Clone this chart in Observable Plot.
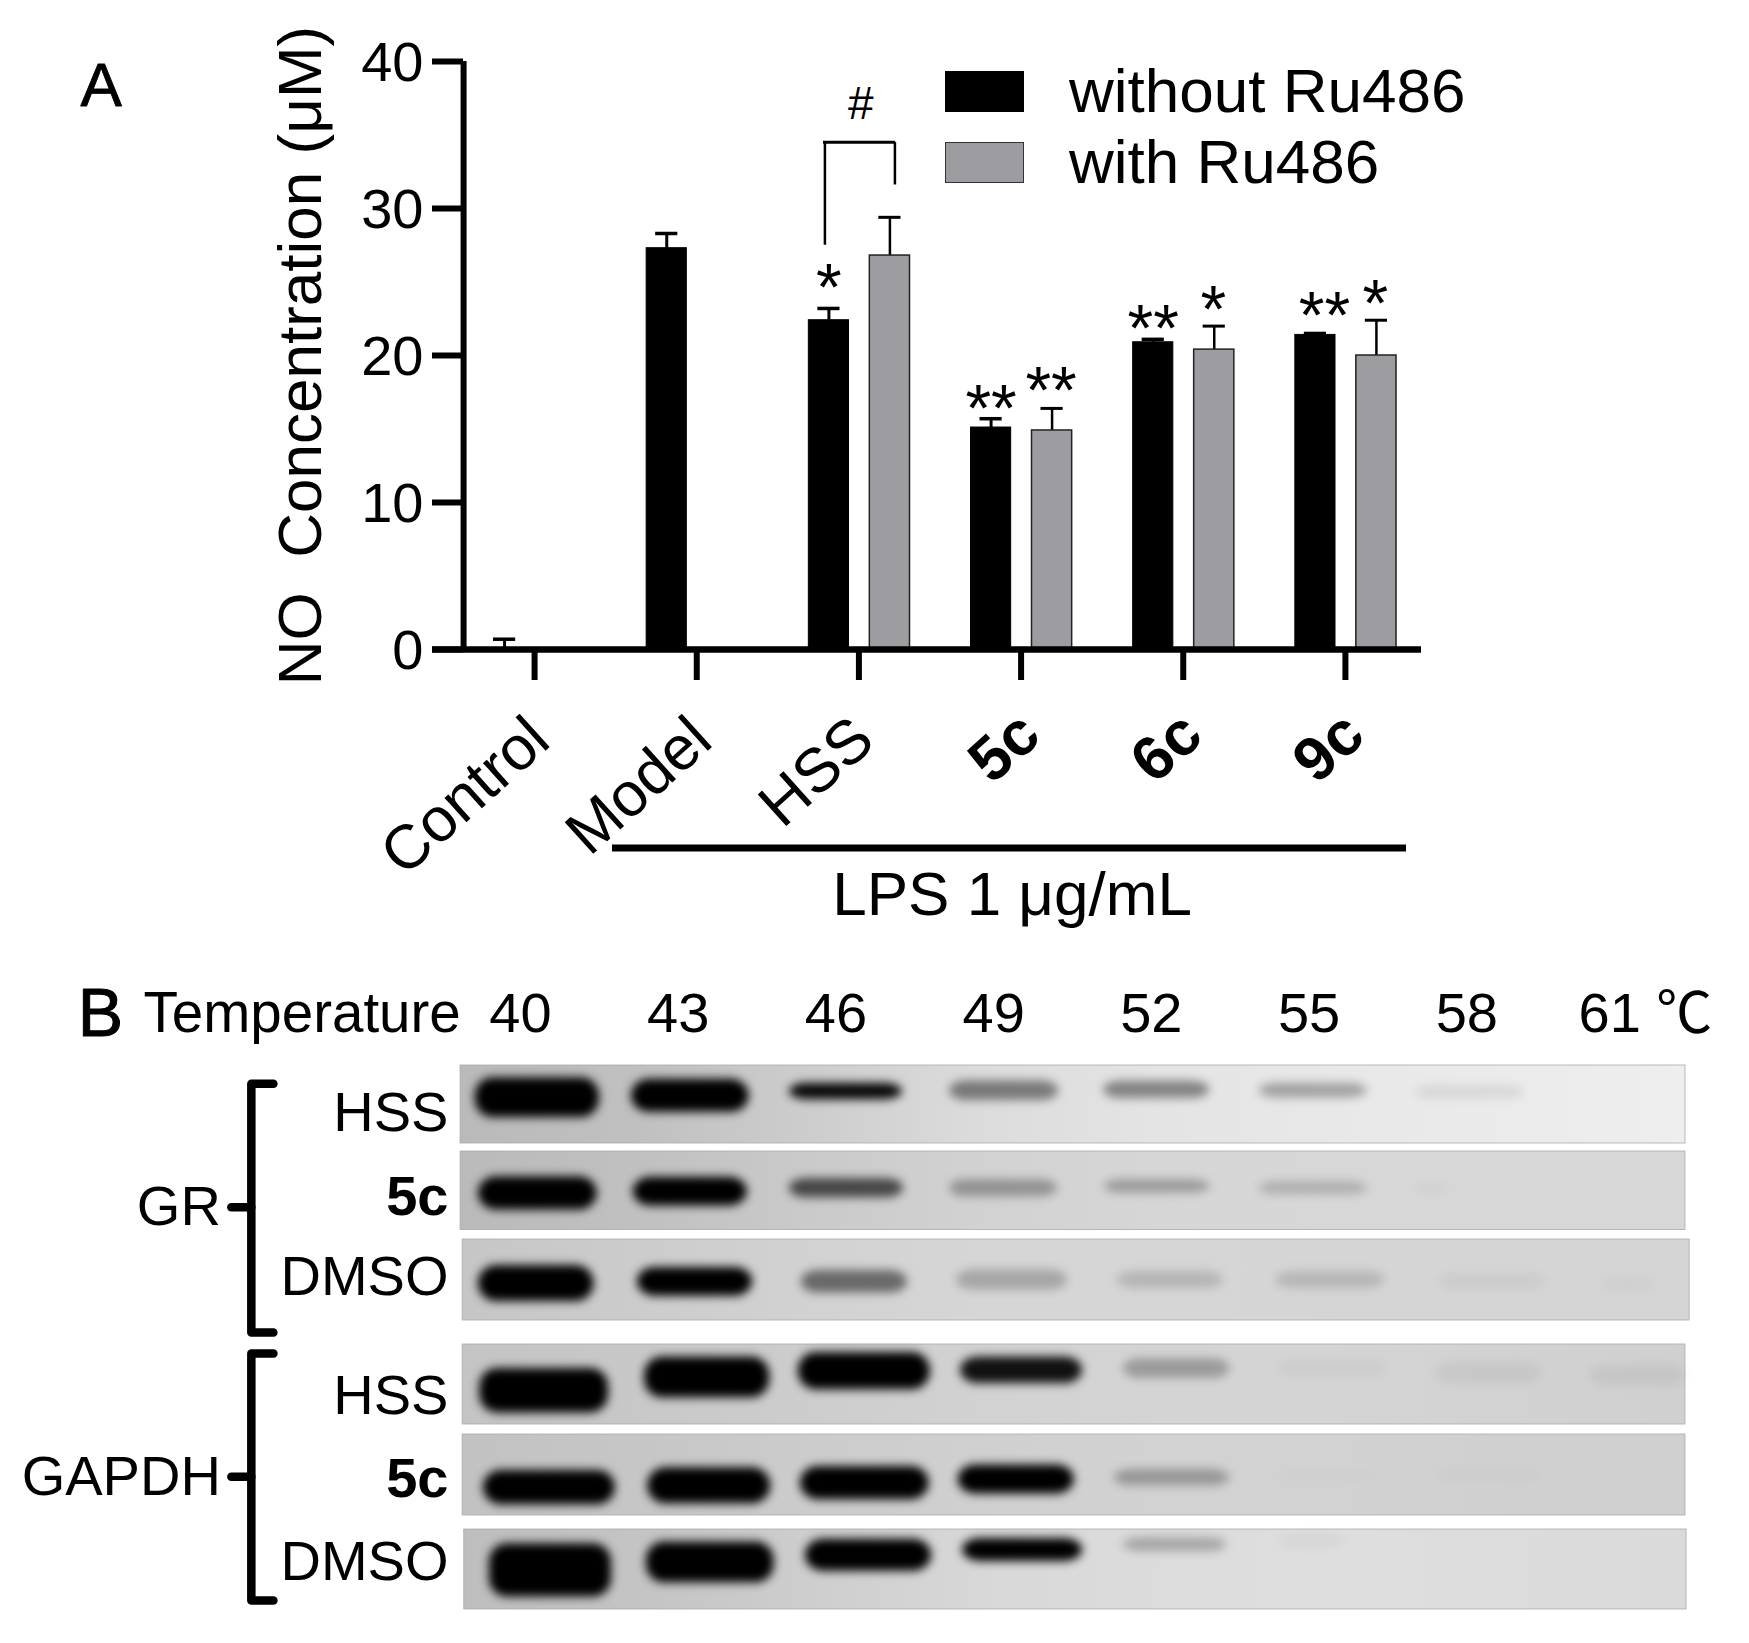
<!DOCTYPE html>
<html><head><meta charset="utf-8">
<script src="https://cdn.jsdelivr.net/npm/d3@7"></script>
<script src="https://cdn.jsdelivr.net/npm/@observablehq/plot@0.6"></script>
<style>
html,body{margin:0;padding:0;background:#fff}
#page{position:relative;width:1749px;height:1643px;overflow:hidden;font-family:"Liberation Sans",Arial,sans-serif}
#page svg{display:block}
.legend{position:absolute;left:945px;color:#000;font-size:62px;line-height:62px;white-space:nowrap;display:flex;align-items:center}
.legend i{display:inline-block;width:79px;height:41px;margin-right:45px;box-sizing:border-box}
</style></head>
<body><div id="page"></div>
<script>
// Panel A values
const groups = ["Control","Model","HSS","5c","6c","9c"];
const withoutRu486 = [0.1, 27.3, 22.4, 15.1, 20.9, 21.4];
const withoutRu486Top = [0.7, 28.3, 23.2, 15.7, 21.1, 21.5];
const withRu486 = [null, null, 26.8, 14.9, 20.4, 20.0];
const withRu486Top = [null, null, 29.4, 16.4, 22.0, 22.4];
const starsWithout = [null, null, "*", "**", "**", "**"];
const starsWithoutAt = [null, null, 25.2, 17.0, 22.4, 23.3];
const starsWith = [null, null, null, "**", "*", "*"];
const starsWithAt = [null, null, null, 18.2, 23.7, 24.1];
const plainGroups = ["Control","Model","HSS"];
const boldGroups = ["5c","6c","9c"];

// Panel B values
const temperatures = [40,43,46,49,52,55,58,61];
const rowNames = ["HSS","5c","DMSO","HSS","5c","DMSO"];
const rowLabelShift = [0.10,0.07,-0.03,0.13,0.05,-0.08];
const bandDarkness = [
  [1,1,.97,.45,.42,.3,.08,0],
  [1,1,.65,.3,.28,.18,.04,0],
  [1,1,.5,.22,.15,.14,.04,.02],
  [1,1,1,.92,.27,.03,.05,.05],
  [1,1,1,1,.28,.01,.02,0],
  [1,1,1,1,.24,.03,0,0]];
const bandCentre = [
  [40.32,43.23,46.19,49.2,52.1,55.08,58.06,61],
  [40.33,43.23,46.2,49.19,52.11,55.08,57.33,61],
  [40.3,43.32,46.35,49.35,52.36,55.4,58.48,61.08],
  [40.45,43.55,46.54,49.53,52.48,55.43,58.43,61.25],
  [40.55,43.59,46.55,49.43,52.39,55.4,58.4,61],
  [40.57,43.61,46.62,49.55,52.45,55.07,58.4,61]];
const bandWidth = [
  [2.36,2.24,2.15,2.07,2.02,2.05,2.07,1.9],
  [2.26,2.17,2.17,2.05,2,2.05,.6,1.9],
  [2.2,2.19,2.02,2.11,2.02,2.07,2.04,.99],
  [2.45,2.38,2.51,2.32,2.02,2.02,2.02,1.81],
  [2.51,2.34,2.45,2.21,2.19,2,2,1.9],
  [2.32,2.43,2.4,2.28,1.96,1.22,1.9,1.9]];
const bandOffset = [
  [-.08,-.1,-.15,-.16,-.17,-.16,-.14,0],
  [.03,.01,-.03,-.03,-.05,-.03,-.02,0],
  [.04,.02,.02,0,0,0,.02,.05],
  [.07,-.08,-.15,-.16,-.18,-.18,-.13,-.1],
  [.14,.12,.09,.05,.03,0,0,0],
  [.01,-.08,-.16,-.22,-.28,-.32,0,0]];
const bandThickness = [
  [.46,.38,.19,.23,.2,.17,.15,.1],
  [.38,.33,.22,.2,.15,.15,.08,.1],
  [.4,.32,.25,.23,.19,.19,.18,.18],
  [.5,.46,.42,.3,.22,.18,.23,.23],
  [.38,.4,.37,.32,.18,.1,.1,.1],
  [.6,.46,.36,.26,.16,.16,.1,.1]];
const rowGrays = [
  [186,192,205,220,228,232,235,238],
  [186,192,202,210,214,215,215,215],
  [198,204,210,214,214,213,213,213],
  [196,200,205,210,212,212,210,208],
  [194,198,204,208,210,210,208,208],
  [190,196,206,216,220,222,220,218]];
const rowLeft = [38.86,38.86,38.9,38.9,38.9,38.93];
const rowRight = [62.16,62.16,62.24,62.16,62.16,62.18];

const FONT = '"Liberation Sans","Noto Sans CJK SC",Arial,sans-serif';
const BLACK = "#000", GRAY = "#9d9da1";
const table = (vals, tops, stars, starsAt) => groups.map((g,i)=>({group:g,value:vals[i],top:tops[i],star:stars[i],starAt:starsAt[i]})).filter(d=>d.value!=null);
const rowsWithout = table(withoutRu486, withoutRu486Top, starsWithout, starsWithoutAt);
const rowsWith = table(withRu486, withRu486Top, starsWith, starsWithAt);

const seriesMarks = (rows, dx, fill, stroke, sw, errW) => [
  Plot.ruleX(rows,{x:"group",y1:"value",y2:"top",dx,stroke:BLACK,strokeWidth:errW}),
  Plot.tickY(rows,{x:"group",y:"top",dx,stroke:BLACK,strokeWidth:errW+.5,insetLeft:70,insetRight:70}),
  Plot.barY(rows,{x:"group",y:"value",dx,fill,stroke,strokeWidth:sw,insetLeft:61,insetRight:61})
];
const starOpts = {x:"group",y:"starAt",text:"star",fontSize:66,lineAnchor:"middle",fill:BLACK};

const chartA = Plot.plot({
  width:1749, height:960, marginLeft:453, marginRight:323, marginTop:61, marginBottom:311,
  style:{fontFamily:FONT,background:"transparent",overflow:"visible"},
  x:{domain:groups,padding:0,round:false,label:null},
  y:{domain:[0,40],label:null},
  marks:[
    ...seriesMarks(rowsWithout,-30,BLACK,BLACK,1,3),
    ...seriesMarks(rowsWith,31,GRAY,"#222",1.5,2.5),
    Plot.ruleY([0],{stroke:BLACK,strokeWidth:6.5,insetLeft:-21,insetRight:5}),
    Plot.ruleX(["Control"],{x:d=>d,y1:0,y2:40,dx:-71,stroke:BLACK,strokeWidth:6}),
    Plot.axisY({ticks:[0,10,20,30,40],tickSize:31,tickFormat:()=>"",dx:10,strokeWidth:6,label:null}),
    Plot.axisY({ticks:[0,10,20,30,40],tickSize:0,tickPadding:40,dx:10,dy:2,fontSize:56,label:null}),
    Plot.axisX({ticks:groups,tickSize:31,tickFormat:()=>"",strokeWidth:6,label:null}),
    Plot.axisX({ticks:plainGroups,tickSize:0,tickPadding:80,tickRotate:-42,fontSize:62,label:null,dx:5}),
    Plot.axisX({ticks:boldGroups,tickSize:0,tickPadding:75,tickRotate:-42,fontSize:62,fontWeight:"bold",label:null,dx:9}),
    Plot.text(rowsWithout.filter(d=>d.star&&d.group!=="9c"),{...starOpts,dx:-30,dy:10}),
    Plot.text(rowsWithout.filter(d=>d.group==="9c"),{...starOpts,dx:-21,dy:10}),
    Plot.text(rowsWith.filter(d=>d.star),{...starOpts,dx:30,dy:10}),
    // significance bracket
    Plot.ruleY([34.5],{stroke:BLACK,strokeWidth:3,insetLeft:370,insetRight:531}),
    Plot.ruleX([{a:27.5,b:34.5}],{x:()=>"HSS",y1:"a",y2:"b",dx:-34,stroke:BLACK,strokeWidth:2.5}),
    Plot.ruleX([{a:31.6,b:34.5}],{x:()=>"HSS",y1:"a",y2:"b",dx:36,stroke:BLACK,strokeWidth:2.5}),
    Plot.text(["#"],{x:()=>"HSS",y:()=>37.1,text:d=>d,dx:2,fontSize:46,lineAnchor:"middle",fill:BLACK}),
    // LPS bar and caption
    Plot.ruleY([-13.5],{stroke:BLACK,strokeWidth:7,insetLeft:159,insetRight:20}),
    Plot.text(["LPS 1 μg/mL"],{x:()=>"5c",y:()=>-16.7,text:d=>d,dx:-9,fontSize:62,lineAnchor:"middle",fill:BLACK}),
    // titles
    Plot.text(["NO  Concentration (μM)"],{text:d=>d,frameAnchor:"left",rotate:-90,dx:-152,textAnchor:"middle",lineAnchor:"middle",fontSize:62,fill:BLACK}),
    Plot.text(["A"],{text:d=>d,frameAnchor:"top-left",dx:-373,dy:25,textAnchor:"start",lineAnchor:"middle",fontSize:62,fill:BLACK,stroke:BLACK,strokeWidth:.8})
  ]
});

// Panel B: row boxes are mapped through a piecewise y scale (row index +/- half a row).
const bTop = 960;
const rowTopPx = [1065,1151,1239,1344,1434,1529];
const rowBotPx = [1143,1229.5,1320,1424,1515,1609];
const yDomain = rowNames.flatMap((_,i)=>[i-.45,i+.45]);
const yRange = rowNames.flatMap((_,i)=>[rowTopPx[i]-bTop,rowBotPx[i]-bTop]);
const bgRows = rowNames.map((name,i)=>({i,name,x1:rowLeft[i],x2:rowRight[i],y1:i-.45,y2:i+.45}));
const bands = rowNames.flatMap((_,i)=>temperatures.map((t,j)=>({
  x1:bandCentre[i][j]-bandWidth[i][j]/2, x2:bandCentre[i][j]+bandWidth[i][j]/2,
  y1:i+bandOffset[i][j]-bandThickness[i][j]/2, y2:i+bandOffset[i][j]+bandThickness[i][j]/2,
  d:bandDarkness[i][j]}))).filter(d=>d.d>0);
const gradients = () => {
  const defs = d3.create("svg:defs");
  rowGrays.forEach((g,i)=>{
    const lg = defs.append("linearGradient").attr("id","rowBg"+i);
    g.forEach((v,k)=>lg.append("stop").attr("offset",k/(g.length-1)).attr("stop-color",`rgb(${v},${v},${v})`));
  });
  return defs.node();
};
const labelRows = rowNames.map((name,i)=>({name,y:i+rowLabelShift[i]}));
const bracket = (pts) => Plot.line(pts,{x:"x",y:"y",stroke:BLACK,strokeWidth:8.5,strokeLinejoin:"round",strokeLinecap:"round"});

const chartB = Plot.plot({
  width:1749, height:683, margin:0,
  style:{fontFamily:FONT,background:"transparent",overflow:"visible"},
  x:{type:"linear",domain:[40,61],range:[520,1624],axis:null},
  y:{type:"linear",domain:yDomain,range:yRange,axis:null},
  marks:[
    gradients,
    ...bgRows.map(r=>Plot.rect([r],{x1:"x1",x2:"x2",y1:"y1",y2:"y2",fill:`url(#rowBg${r.i})`,stroke:"#aaa",strokeWidth:.8})),
    Plot.rect(bands,{x1:"x1",x2:"x2",y1:"y1",y2:"y2",fill:BLACK,fillOpacity:"d",rx:18,imageFilter:"blur(5px)"}),
    Plot.text(temperatures.slice(0,7),{x:d=>d,y:()=>-1.04,text:d=>String(d),fontSize:56,lineAnchor:"middle",fill:BLACK}),
    Plot.text(["61 ℃"],{x:()=>61,y:()=>-1.04,text:d=>d,dx:-46,fontSize:56,textAnchor:"start",lineAnchor:"middle",fill:BLACK}),
    Plot.text(["Temperature"],{x:()=>32.83,y:()=>-1.04,text:d=>d,fontSize:56.5,textAnchor:"start",lineAnchor:"middle",fill:BLACK}),
    Plot.text(["B"],{x:()=>31.58,y:()=>-1.04,text:d=>d,fontSize:68,textAnchor:"start",lineAnchor:"middle",fill:BLACK,stroke:BLACK,strokeWidth:1}),
    Plot.text(labelRows.filter(d=>d.name!=="5c"),{x:()=>38.63,y:"y",text:"name",fontSize:56,textAnchor:"end",lineAnchor:"middle",fill:BLACK}),
    Plot.text(labelRows.filter(d=>d.name==="5c"),{x:()=>38.63,y:"y",text:"name",fontSize:56,fontWeight:"bold",textAnchor:"end",lineAnchor:"middle",fill:BLACK}),
    bracket([{x:35.3,y:-.24},{x:34.88,y:-.24},{x:34.88,y:2.5},{x:35.3,y:2.5}]),
    bracket([{x:34.5,y:1.19},{x:34.88,y:1.19}]),
    bracket([{x:35.3,y:2.65},{x:34.88,y:2.65},{x:34.88,y:5.35},{x:35.3,y:5.35}]),
    bracket([{x:34.5,y:4.02},{x:34.88,y:4.02}]),
    Plot.text(["GR"],{x:()=>34.3,y:()=>1.19,text:d=>d,fontSize:56,textAnchor:"end",lineAnchor:"middle",fill:BLACK}),
    Plot.text(["GAPDH"],{x:()=>34.3,y:()=>4.02,text:d=>d,fontSize:56,textAnchor:"end",lineAnchor:"middle",fill:BLACK})
  ]
});

const page = document.getElementById("page");
page.append(chartA, chartB);
const legend = [["without Ru486",BLACK,"none",60],["with Ru486",GRAY,"1.5px solid #333",131]];
legend.forEach(([label,fill,border,top])=>{
  const el = document.createElement("div");
  el.className = "legend";
  el.style.top = top + "px";
  const sw = document.createElement("i");
  sw.style.background = fill; sw.style.border = border;
  el.append(sw, document.createTextNode(label));
  page.append(el);
});
</script>
</body></html>
